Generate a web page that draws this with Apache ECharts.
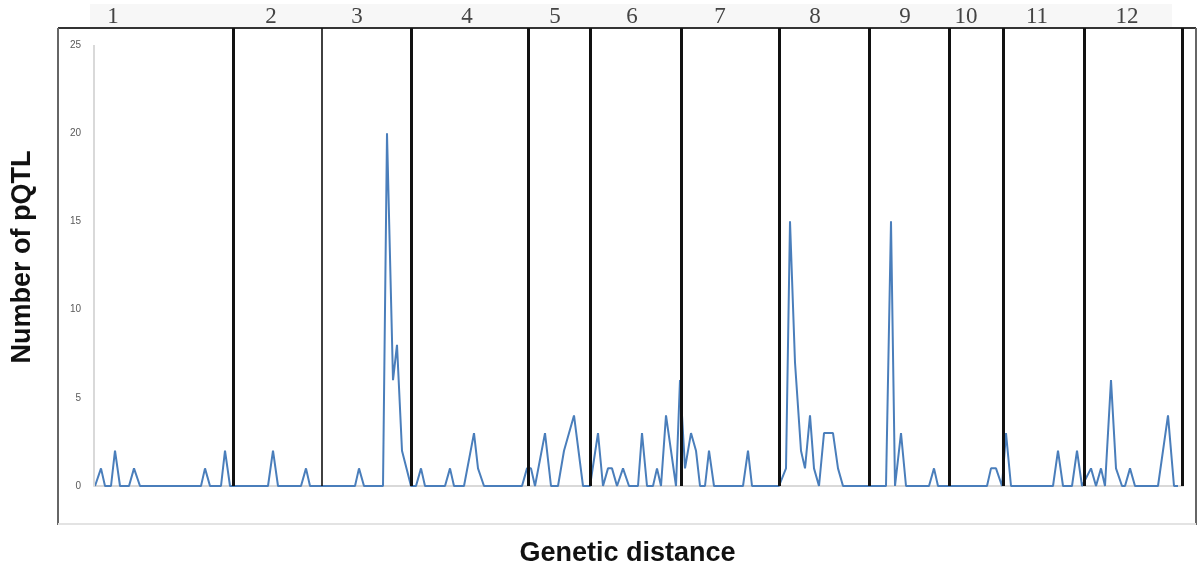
<!DOCTYPE html>
<html>
<head>
    <meta charset="utf-8">
    <title>pQTL distribution</title>
    <script src="https://cdn.jsdelivr.net/npm/echarts@6/dist/echarts.min.js"></script>
</head>
<body>
<style>
    html, body, #main {
        width: 100%;
        height: 100%;
        padding: 0;
        margin: 0;
        background: #fff;
    }
</style>
<div id="main"></div>
<script type="text/javascript">
    // marker position along the genome (cumulative) and number of pQTL there
    var pos = [0, 6, 10, 16, 20, 25, 34, 39, 45, 106, 110, 115, 126, 130, 135,
        173, 178, 183, 206, 211, 215,
        260, 264, 269, 288, 292, 298, 302, 307, 316,
        321, 326, 330, 350, 355, 359, 369, 379, 383, 389, 427, 432, 436, 440,
        450, 456, 463, 469, 479, 488,
        495, 503, 508, 513, 517, 522, 528, 534, 543, 547, 552, 558, 562, 566, 571, 581, 585,
        590, 596, 601, 605, 610, 614, 619, 648, 653, 657,
        684, 691, 695, 700, 706, 710, 715, 719, 724, 729, 738, 743, 748,
        791, 796, 800, 806, 811, 834, 839, 843,
        892, 896, 901, 907,
        911, 916, 958, 963, 968, 977, 982, 987,
        996, 1001, 1006, 1010, 1016, 1021, 1027, 1030, 1035, 1040, 1063, 1073, 1079, 1083];
    var pqtl = [0, 1, 0, 0, 2, 0, 0, 1, 0, 0, 1, 0, 0, 2, 0,
        0, 2, 0, 0, 1, 0,
        0, 1, 0, 0, 20, 6, 8, 2, 0,
        0, 1, 0, 0, 1, 0, 0, 3, 1, 0, 0, 1, 1, 0,
        3, 0, 0, 2, 4, 0,
        0, 3, 0, 1, 1, 0, 1, 0, 0, 3, 0, 0, 1, 0, 4, 0, 6,
        1, 3, 2, 0, 0, 2, 0, 0, 2, 0,
        0, 1, 15, 7, 2, 1, 4, 1, 0, 3, 3, 1, 0,
        0, 15, 0, 3, 0, 0, 1, 0,
        0, 1, 1, 0,
        3, 0, 0, 2, 0, 0, 2, 0,
        1, 0, 1, 0, 6, 1, 0, 0, 1, 0, 0, 4, 0, 0];

    // chromosome borders and where each chromosome number sits
    var chrBorders = [138, 227, 316, 433, 495, 586, 684, 774, 854, 908, 989, 1087];
    var chrNames = ['1', '2', '3', '4', '5', '6', '7', '8', '9', '10', '11', '12'];
    var chrLabelPos = [18, 176, 262, 372, 460, 537, 625, 720, 810, 871, 942, 1032];

    var myChart = echarts.init(document.getElementById('main'));

    var seriesData = pos.map(function (p, i) {
        return [p, pqtl[i]];
    });

    var borderLines = chrBorders.map(function (b, i) {
        return {xAxis: b, lineStyle: {width: i === 1 ? 1.6 : 3}};
    });

    var yTop = 25.96; // frame top sits a little above 25

    myChart.setOption({
        animation: false,
        grid: {left: 94, right: 19, top: 28, bottom: 85},
        graphic: [
            {type: 'rect', shape: {x: 90, y: 4, width: 1082, height: 24}, style: {fill: '#f7f7f7'}, z: -1},
            {type: 'line', shape: {x1: 58, y1: 28, x2: 1196, y2: 28}, style: {stroke: '#333', lineWidth: 2}},
            {type: 'line', shape: {x1: 58, y1: 28, x2: 58, y2: 525}, style: {stroke: '#666', lineWidth: 2}},
            {type: 'line', shape: {x1: 1196, y1: 28, x2: 1196, y2: 525}, style: {stroke: '#666', lineWidth: 2}},
            {type: 'line', shape: {x1: 58, y1: 524, x2: 1196, y2: 524}, style: {stroke: '#e3e3e3', lineWidth: 2}}
        ],
        xAxis: [
            {
                type: 'value',
                min: -1,
                max: 1088,
                name: 'Genetic distance',
                nameLocation: 'middle',
                nameGap: 54,
                nameTextStyle: {
                    fontFamily: 'Liberation Sans',
                    fontWeight: 'bold',
                    fontSize: 27,
                    color: '#111',
                    padding: [0, 22, 0, 0]
                },
                axisLine: {lineStyle: {color: '#d9d9d9', width: 2}},
                axisTick: {show: false},
                axisLabel: {show: false},
                splitLine: {show: false}
            },
            {
                type: 'value',
                position: 'top',
                min: -1,
                max: 1088,
                axisLine: {show: false},
                axisTick: {show: false},
                splitLine: {show: false},
                axisLabel: {
                    customValues: chrLabelPos,
                    margin: 0,
                    fontFamily: 'Liberation Serif',
                    fontSize: 23,
                    color: '#444',
                    formatter: function (v) {
                        return chrNames[chrLabelPos.indexOf(v)];
                    }
                }
            }
        ],
        yAxis: {
            type: 'value',
            min: 0,
            max: yTop,
            interval: 5,
            name: 'Number of pQTL',
            nameLocation: 'middle',
            nameGap: 58,
            nameTextStyle: {
                fontFamily: 'Liberation Sans',
                fontWeight: 'bold',
                fontSize: 27,
                color: '#111',
                padding: [0, 0, 0, 0]
            },
            axisLine: {show: false},
            axisTick: {show: false},
            splitLine: {show: false},
            axisLabel: {
                margin: 13,
                fontFamily: 'Liberation Sans',
                fontSize: 10,
                color: '#595959',
                formatter: function (v) {
                    return v % 5 === 0 ? v : '';
                }
            }
        },
        series: [
            {
                type: 'line',
                data: seriesData,
                symbol: 'none',
                lineStyle: {color: '#4a7ebb', width: 2},
                markLine: {
                    silent: true,
                    symbol: 'none',
                    label: {show: false},
                    lineStyle: {color: '#111', type: 'solid'},
                    data: borderLines.concat([[
                        {coord: [-1, 0], lineStyle: {color: '#d9d9d9', width: 2}},
                        {coord: [-1, 25]}
                    ]])
                }
            }
        ]
    });
</script>
</body>
</html>
